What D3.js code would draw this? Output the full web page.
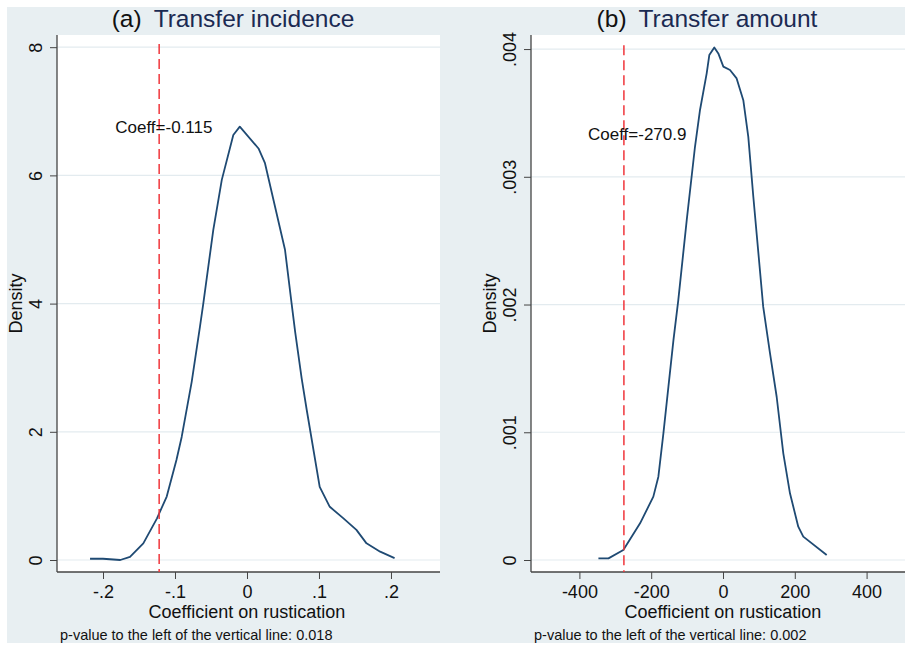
<!DOCTYPE html>
<html>
<head>
<meta charset="utf-8">
<script src="https://cdn.jsdelivr.net/npm/d3@7"></script>
<style>
  body { margin: 0; background: #fff; }
  svg { display: block; font-family: "Liberation Sans", Arial, sans-serif; }
</style>
</head>
<body>
<svg id="chart" width="905" height="646"></svg>
<script>
// Panel (a): bootstrap density of coefficient, transfer incidence
const incidenceX = [-0.218, -0.200, -0.176, -0.1625, -0.144, -0.125, -0.1115, -0.098, -0.0907,
  -0.0768, -0.0653, -0.0607, -0.0468, -0.035, -0.019, -0.010, 0.016, 0.025, 0.0528,
  0.062, 0.067, 0.076, 0.083, 0.101, 0.115, 0.134, 0.152, 0.166, 0.185, 0.205];
const incidenceDensity = [0.02, 0.02, 0.00, 0.05, 0.26, 0.65, 0.99, 1.56, 1.92,
  2.78, 3.64, 4.00, 5.15, 5.93, 6.63, 6.76, 6.42, 6.19, 4.84,
  4.00, 3.55, 2.83, 2.34, 1.14, 0.83, 0.65, 0.47, 0.26, 0.13, 0.03];

// Panel (b): transfer amount
const amountX = [-347, -319, -277.6, -231, -194, -180, -166, -152, -138, -124.5, -101, -78, -64,
  -45.4, -38.1, -24.2, -13, 1, 19.5, 38, 56.6, 70.5, 84.5, 112, 131, 149.5, 168, 186.6, 209.7,
  223.7, 288.8];
const amountDensity = [0.000013, 0.000013, 0.000078, 0.000287, 0.000496, 0.000652, 0.000992,
  0.001357, 0.001722, 0.002035, 0.002661, 0.003235, 0.003523, 0.00381, 0.003953, 0.004013,
  0.003966, 0.003862, 0.003836, 0.00377, 0.0036, 0.003313, 0.002844, 0.001983, 0.001618,
  0.001278, 0.000835, 0.000522, 0.000261, 0.000183, 0.000039];

const incidenceXTicks = [-0.2, -0.1, 0, 0.1, 0.2];
const incidenceXLabels = ["-.2", "-.1", "0", ".1", ".2"];
const incidenceYTicks = [0, 2, 4, 6, 8];
const incidenceYLabels = ["0", "2", "4", "6", "8"];

const amountXTicks = [-400, -200, 0, 200, 400];
const amountXLabels = ["-400", "-200", "0", "200", "400"];
const amountYTicks = [0, 0.001, 0.002, 0.003, 0.004];
const amountYLabels = ["0", ".001", ".002", ".003", ".004"];

const panels = [
  { tag: "(a)", title: "Transfer incidence", xs: incidenceX, ys: incidenceDensity,
    xDomain: [-0.2639, 0.2681], yDomain: [-0.187, 8.19], left: 57, right: 440,
    xTicks: incidenceXTicks, xLabels: incidenceXLabels, yTicks: incidenceYTicks, yLabels: incidenceYLabels,
    coeffLine: -0.122, coeffText: "Coeff=-0.115", textAt: [-0.183, 6.66], lineTop: 8.05,
    pval: "p-value to the left of the vertical line: 0.018", pvalX: 60, titleCx: 233 },
  { tag: "(b)", title: "Transfer amount", xs: amountX, ys: amountDensity,
    xDomain: [-534.8, 507], yDomain: [-0.0000939, 0.00411], left: 531, right: 905,
    xTicks: amountXTicks, xLabels: amountXLabels, yTicks: amountYTicks, yLabels: amountYLabels,
    coeffLine: -276, coeffText: "Coeff=-270.9", textAt: [-376, 0.003288], lineTop: 0.00403,
    pval: "p-value to the left of the vertical line: 0.002", pvalX: 534, titleCx: 707 }
];

const plotTop = 35, plotBottom = 572;
const svg = d3.select("#chart");

// Stata-like outer background
svg.append("rect").attr("x", 7).attr("y", 7).attr("width", 898).attr("height", 636)
  .attr("fill", "#e8eff2");

panels.forEach(p => {
  const x = d3.scaleLinear().domain(p.xDomain).range([p.left, p.right]);
  const y = d3.scaleLinear().domain(p.yDomain).range([plotBottom, plotTop]);
  const g = svg.append("g");

  // plot region
  g.append("rect").attr("x", p.left).attr("y", plotTop)
    .attr("width", p.right - p.left).attr("height", plotBottom - plotTop).attr("fill", "#fff");

  // gridlines
  g.selectAll(".grid").data(p.yTicks).enter().append("line")
    .attr("x1", p.left).attr("x2", p.right)
    .attr("y1", d => y(d)).attr("y2", d => y(d))
    .attr("stroke", "#e3ebef").attr("stroke-width", 1.2);

  // y axis
  const yAxis = g.append("g").attr("transform", `translate(${p.left},0)`)
    .call(d3.axisLeft(y).tickValues(p.yTicks).tickFormat((d, i) => p.yLabels[i])
      .tickSize(7).tickPadding(0));
  yAxis.select(".domain").attr("stroke", "#444").attr("stroke-width", 1.3)
    .attr("d", `M0,${plotTop}V${plotBottom}`);
  yAxis.selectAll(".tick line").attr("stroke", "#444");
  yAxis.selectAll(".tick text")
    .attr("x", null).attr("dy", null)
    .attr("text-anchor", "middle")
    .attr("transform", "translate(-15.5,0) rotate(-90)")
    .attr("font-size", 18).attr("fill", "#111");

  // x axis
  const xAxis = g.append("g").attr("transform", `translate(0,${plotBottom})`)
    .call(d3.axisBottom(x).tickValues(p.xTicks).tickFormat((d, i) => p.xLabels[i])
      .tickSize(7).tickPadding(0));
  xAxis.select(".domain").attr("stroke", "#444").attr("stroke-width", 1.3)
    .attr("d", `M${p.left},0H${p.right}`);
  xAxis.selectAll(".tick line").attr("stroke", "#444");
  xAxis.selectAll(".tick text").attr("y", 26).attr("dy", null)
    .attr("font-size", 18).attr("fill", "#111");

  // density curve
  const pts = p.xs.map((v, i) => [v, p.ys[i]]);
  g.append("path").datum(pts)
    .attr("d", d3.line().x(d => x(d[0])).y(d => y(d[1])).curve(d3.curveLinear))
    .attr("fill", "none").attr("stroke", "#1f4a73").attr("stroke-width", 1.8)
    .attr("stroke-linejoin", "round");

  // vertical reference line
  g.append("line")
    .attr("x1", x(p.coeffLine)).attr("x2", x(p.coeffLine))
    .attr("y1", y(p.lineTop)).attr("y2", plotBottom)
    .attr("stroke", "#f0363c").attr("stroke-width", 1.5).attr("stroke-dasharray", "10,5");

  g.append("text").attr("x", x(p.textAt[0])).attr("y", y(p.textAt[1]))
    .attr("font-size", 17).attr("fill", "#111").text(p.coeffText);

  // titles
  const t = g.append("text").attr("x", p.titleCx).attr("y", 27)
    .attr("text-anchor", "middle").attr("font-size", 24.5);
  t.append("tspan").attr("fill", "#111").text(p.tag);
  t.append("tspan").attr("dx", 12).attr("fill", "#1b2a52").text(p.title);

  g.append("text").attr("x", x(0)).attr("y", 618).attr("text-anchor", "middle")
    .attr("font-size", 18).attr("fill", "#111").text("Coefficient on rustication");

  g.append("text").attr("transform", `translate(${p.left - 35.5},${(plotTop + plotBottom) / 2}) rotate(-90)`)
    .attr("text-anchor", "middle").attr("font-size", 18).attr("fill", "#111").text("Density");

  g.append("text").attr("x", p.pvalX).attr("y", 640)
    .attr("font-size", 14.5).attr("fill", "#111").text(p.pval);
});
</script>
</body>
</html>
